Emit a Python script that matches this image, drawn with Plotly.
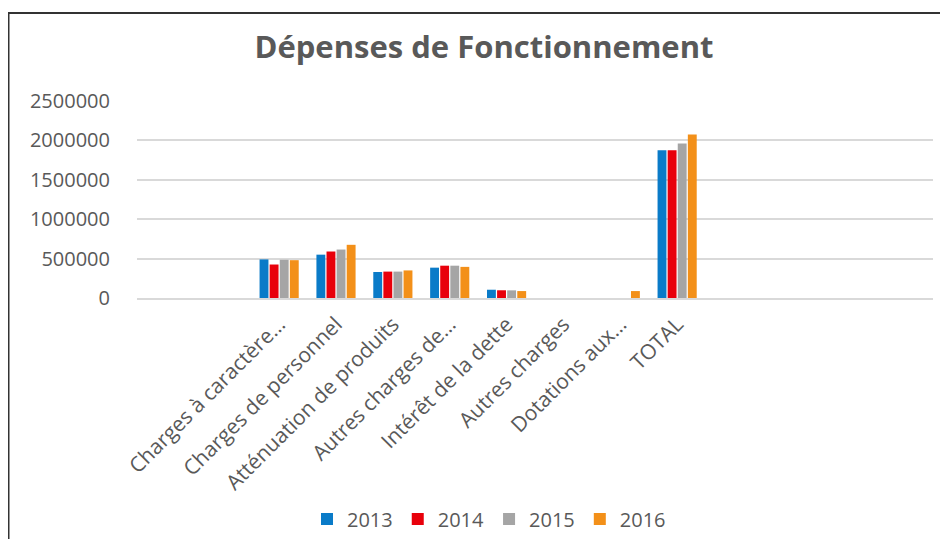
import plotly.graph_objects as go

categories = [
    "Charges à caractère…",
    "Charges de personnel",
    "Atténuation de produits",
    "Autres charges de…",
    "Intérêt de la dette",
    "Autres charges",
    "Dotations aux…",
    "TOTAL",
]
years = ["2013", "2014", "2015", "2016"]
v2013 = [490000, 550000, 330000, 385000, 105000, 0, 0, 1875000]
v2014 = [425000, 590000, 335000, 410000, 98000, 0, 0, 1875000]
v2015 = [485000, 615000, 335000, 410000, 97000, 0, 0, 1960000]
v2016 = [480000, 675000, 350000, 395000, 88000, 0, 88000, 2075000]
colors = ["#0A7BC8", "#E8000B", "#A5A5A5", "#F39019"]
y_ticks = [0, 500000, 1000000, 1500000, 2000000, 2500000]

# empty placeholder categories (the source axis has blank slots on both sides)
pad_left = [" " * (i + 1) for i in range(2)]
pad_right = [" " * (i + 3) for i in range(4)]
cat_order = pad_left + categories + pad_right

# the page body has an 8px margin; lay out in window pixels minus that offset
OFF = 8
W, H = 948 - OFF, 539 - OFF
ml = 137 - OFF
mt = 101 - OFF
plot_right = 933 - OFF
plot_bottom = 298 - OFF
mr = W - plot_right
mb = H - plot_bottom
pw, ph = W - ml - mr, H - mt - mb

def px_x(p):
    return (p - OFF - ml) / pw

def px_y(p):
    return (plot_bottom - (p - OFF)) / ph

txt = "#595959"
font = "Open Sans"

fig = go.Figure()
for name, vals, col in zip(years, [v2013, v2014, v2015, v2016], colors):
    fig.add_trace(go.Bar(x=categories, y=vals, name=name, marker_color=col,
                         marker_line_width=0))

fig.update_layout(
    width=W, height=H,
    margin=dict(l=ml, r=mr, t=mt, b=mb, autoexpand=False),
    paper_bgcolor="white", plot_bgcolor="white",
    barmode="group", bargap=0.29, bargroupgap=0.12,
    font=dict(family=font, color=txt, size=19),
    title=dict(text="<b>Dépenses de Fonctionnement</b>", x=px_x(484), xanchor="center",
               xref="paper", y=1 - (47 - OFF) / H, yanchor="middle", yref="container",
               font=dict(size=31, color=txt, family=font)),
    xaxis=dict(type="category", categoryorder="array", categoryarray=cat_order,
               range=[-0.5, len(cat_order) - 0.5], tickangle=-45,
               showgrid=False, showline=True, linecolor="#D9D9D9", linewidth=1.5,
               ticks="outside", ticklen=4, tickcolor="rgba(0,0,0,0)",
               tickfont=dict(size=21, color=txt), automargin=False),
    yaxis=dict(range=[0, 2500000], tickvals=y_ticks,
               ticktext=[str(v) for v in y_ticks],
               showgrid=True, gridcolor="#D9D9D9", gridwidth=1.5,
               zeroline=False, showline=False,
               ticks="outside", ticklen=22, tickcolor="rgba(0,0,0,0)",
               tickfont=dict(size=20, color=txt), automargin=False),
    legend=dict(orientation="h", x=px_x(489), xanchor="center",
                y=px_y(519), yanchor="middle", itemwidth=30,
                font=dict(size=20, color=txt), bgcolor="rgba(0,0,0,0)"),
    shapes=[
        dict(type="line", xref="paper", yref="paper",
             x0=px_x(8), x1=px_x(950), y0=px_y(13), y1=px_y(13),
             line=dict(color="#333333", width=2)),
        dict(type="line", xref="paper", yref="paper",
             x0=px_x(8.5), x1=px_x(8.5), y0=px_y(13), y1=px_y(541),
             line=dict(color="#333333", width=2)),
    ],
)

fig.write_html("out.html")
